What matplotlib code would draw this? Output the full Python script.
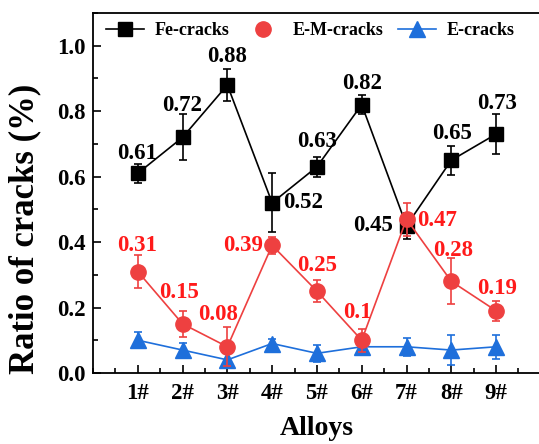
import numpy as np
import matplotlib
matplotlib.use("Agg")
import matplotlib.pyplot as plt
from matplotlib.lines import Line2D
from matplotlib.ticker import MultipleLocator

plt.rcParams['font.family'] = ['Liberation Serif', 'DejaVu Serif']
plt.rcParams['font.weight'] = 'bold'

alloys = ['1#', '2#', '3#', '4#', '5#', '6#', '7#', '8#', '9#']
fe = [0.61, 0.72, 0.88, 0.52, 0.63, 0.82, 0.45, 0.65, 0.73]
fe_err = [0.03, 0.07, 0.05, 0.09, 0.03, 0.03, 0.04, 0.045, 0.06]
em = [0.31, 0.15, 0.08, 0.39, 0.25, 0.10, 0.47, 0.28, 0.19]
em_err = [0.05, 0.04, 0.06, 0.025, 0.033, 0.035, 0.05, 0.07, 0.03]
e = [0.10, 0.07, 0.04, 0.09, 0.06, 0.08, 0.08, 0.07, 0.08]
e_err = [0.025, 0.023, 0.02, 0.015, 0.025, 0.02, 0.028, 0.045, 0.037]

# label offsets in pixels (dx, dy) relative to each point
fe_off = [(-1, 20), (0, 32), (0, 28), (31, 0), (0, 25), (0, 21), (-33, 0), (1, 27), (1, 31)]
em_off = [(-1, 26), (-3, 31), (-9, 32), (-29, 0), (0, 26), (-4, 28), (31, -1), (2, 31), (1, 22)]

black = '#000000'
red = '#EE4040'
red_txt = '#FF1A1A'
blue = '#1E6FDB'

x = np.arange(1, len(alloys) + 1)

fig = plt.figure(figsize=(5.39, 4.44), dpi=100)
ax = fig.add_axes([0.1725, 0.16, 0.831, 0.8107])

ax.errorbar(x, fe, yerr=fe_err, color=black, marker='s', markersize=10, lw=1.2,
            capsize=3, elinewidth=1.2, capthick=1.2, zorder=3)
ax.errorbar(x, em, yerr=em_err, color=red, marker='o', markersize=11, lw=1.2,
            capsize=3, elinewidth=1.2, capthick=1.2, zorder=4)
ax.errorbar(x, e, yerr=e_err, color=blue, marker='^', markersize=11, lw=1.2,
            capsize=3, elinewidth=1.2, capthick=1.2, zorder=2)

for xi, v, (dx, dy) in zip(x, fe, fe_off):
    ax.annotate(f'{v:g}', (xi, v), xytext=(dx, dy), textcoords='offset pixels',
                ha='center', va='center', fontsize=16.5, fontweight='bold', color=black)
for xi, v, (dx, dy) in zip(x, em, em_off):
    ax.annotate(f'{v:g}', (xi, v), xytext=(dx, dy), textcoords='offset pixels',
                ha='center', va='center', fontsize=16.5, fontweight='bold', color=red_txt)

ax.set_xlim(0, 10)
ax.set_ylim(0, 1.1)
ax.set_xticks(x)
ax.set_xticklabels(alloys)
ax.xaxis.set_minor_locator(MultipleLocator(0.5))
ax.set_yticks(np.arange(0, 1.01, 0.2))
ax.yaxis.set_minor_locator(MultipleLocator(0.1))
ax.tick_params(which='major', direction='in', length=6, width=1.2, labelsize=16.5, pad=5)
ax.tick_params(axis='x', which='major', pad=7)
ax.tick_params(which='minor', direction='in', length=3.5, width=1.2)
for lab in ax.get_xticklabels() + ax.get_yticklabels():
    lab.set_fontweight('bold')
for sp in ax.spines.values():
    sp.set_linewidth(1.3)

ax.set_xlabel('Alloys', fontsize=20, fontweight='bold', labelpad=9)
ax.set_ylabel('Ratio of cracks (%)', fontsize=25, fontweight='bold')
ax.yaxis.set_label_coords(-0.115, 0.40)

handles = [
    Line2D([], [], color=black, marker='s', markersize=10, lw=1.2),
    Line2D([], [], color=red, marker='o', markersize=11, ls='none'),
    Line2D([], [], color=blue, marker='^', markersize=11, lw=1.2),
]
ax.legend(handles, ['Fe-cracks', 'E-M-cracks', 'E-cracks'], loc='upper left',
          ncol=3, frameon=False, prop={'weight': 'bold', 'size': 13},
          handlelength=2.1, handletextpad=0.6, columnspacing=0.8,
          bbox_to_anchor=(0.0, 1.01), borderaxespad=0.3)

fig.savefig('out.png', dpi=100)
